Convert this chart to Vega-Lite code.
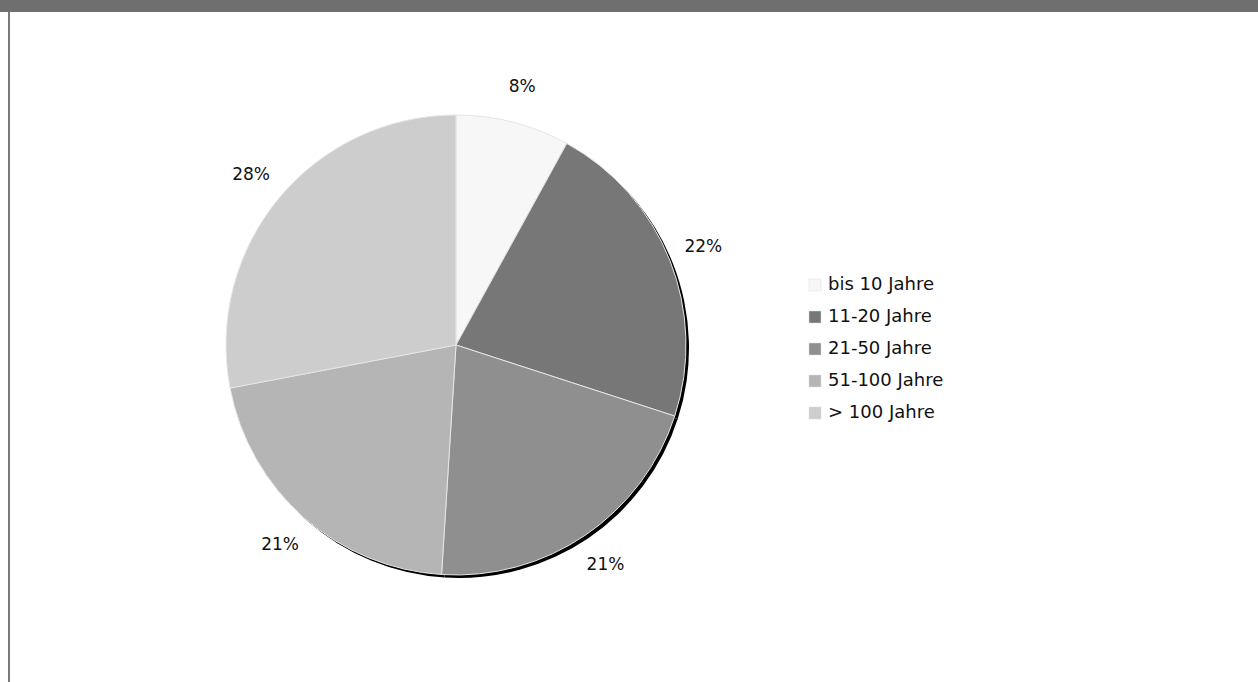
{
  "$schema": "https://vega.github.io/schema/vega-lite/v6.json",
  "padding": 0,
  "background": "white",
  "spacing": 0,
  "config": {"view": {"stroke": null}, "concat": {"spacing": 0}, "font": "DejaVu Sans"},
  "vconcat": [
    {
      "width": 1258,
      "height": 12,
      "data": {"values": [{"k": 1}]},
      "mark": {"type": "rect", "color": "#6f6f70"},
      "encoding": {}
    },
    {
      "spacing": 0,
      "hconcat": [
        {
          "width": 8,
          "height": 670,
          "data": {"values": [{"k": 1}]},
          "mark": {"type": "rect", "opacity": 0},
          "encoding": {}
        },
        {
          "width": 2,
          "height": 670,
          "data": {"values": [{"k": 1}]},
          "mark": {"type": "rect", "color": "#7a7a7a"},
          "encoding": {}
        },
        {
          "width": 892,
          "height": 666,
          "data": {
            "values": [
              {"group": "bis 10 Jahre", "pct": 8, "order": 1, "label": "8%"},
              {"group": "11-20 Jahre", "pct": 22, "order": 2, "label": "22%"},
              {"group": "21-50 Jahre", "pct": 21, "order": 3, "label": "21%"},
              {"group": "51-100 Jahre", "pct": 21, "order": 4, "label": "21%"},
              {"group": "> 100 Jahre", "pct": 28, "order": 5, "label": "28%"}
            ]
          },
          "encoding": {
            "theta": {"field": "pct", "type": "quantitative", "stack": true},
            "order": {"field": "order", "type": "quantitative"}
          },
          "layer": [
            {
              "mark": {"type": "arc", "outerRadius": 230, "color": "black", "xOffset": 3, "yOffset": 3},
              "encoding": {}
            },
            {
              "mark": {"type": "arc", "outerRadius": 230, "stroke": "#e6e6e6", "strokeWidth": 1},
              "encoding": {
                "color": {
                  "field": "group",
                  "type": "nominal",
                  "sort": ["bis 10 Jahre", "11-20 Jahre", "21-50 Jahre", "51-100 Jahre", "> 100 Jahre"],
                  "scale": {
                    "domain": ["bis 10 Jahre", "11-20 Jahre", "21-50 Jahre", "51-100 Jahre", "> 100 Jahre"],
                    "range": ["#f7f7f7", "#777777", "#8f8f8f", "#b5b5b5", "#cdcdcd"]
                  },
                  "legend": {
                    "title": null,
                    "orient": "none",
                    "legendX": 806,
                    "legendY": 276,
                    "symbolType": "square",
                    "symbolSize": 144,
                    "symbolStrokeColor": "#dddddd",
                    "symbolStrokeWidth": 0.5,
                    "labelFontSize": 18,
                    "labelColor": "#111111",
                    "labelFont": "DejaVu Sans",
                    "labelOffset": 4,
                    "rowPadding": 14
                  }
                }
              }
            },
            {
              "mark": {"type": "text", "radius": 266, "fontSize": 17, "color": "#111111", "font": "DejaVu Sans"},
              "encoding": {"text": {"field": "label"}}
            }
          ]
        }
      ]
    }
  ]
}
